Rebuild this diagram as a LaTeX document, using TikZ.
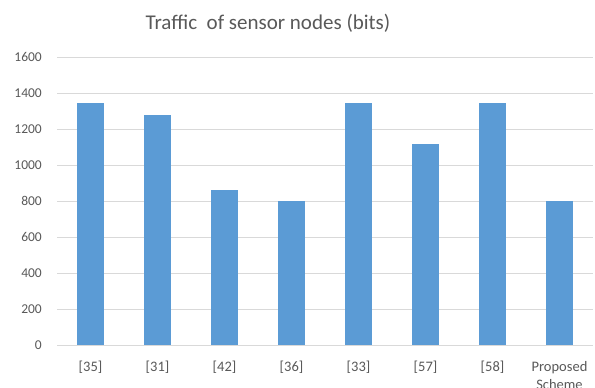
\documentclass[tikz,border=0pt]{standalone}
\usepackage{fontspec}
\setmainfont{Carlito}
\definecolor{barblue}{HTML}{5B9BD5}
\definecolor{gridgray}{HTML}{D9D9D9}
\definecolor{txtgray}{HTML}{595959}
\begin{document}
\begin{tikzpicture}[x=1pt,y=-1pt,
  bar/.style={fill=barblue,draw=none},
  grid/.style={draw=gridgray,line width=1pt},
  ylab/.style={anchor=east,text=txtgray,font=\fontsize{13.5}{14}\selectfont,inner sep=0pt},
  xlab/.style={anchor=north,text=txtgray,font=\fontsize{14.5}{18}\selectfont,inner sep=0pt,align=center},
  title/.style={text=txtgray,font=\fontsize{21}{24}\selectfont,inner sep=0pt}]
\useasboundingbox[fill=white] (0,0) rectangle (595,388);
\node[title] (t) at (268,23) {Traffic\ \ of sensor nodes (bits)};
% grid and y labels
\foreach \v [count=\i from 0] in {0,200,400,600,800,1000,1200,1400,1600}{
  \pgfmathsetmacro{\yy}{345-\v*0.1797}
  \coordinate (gl\i) at (57,\yy);
  \coordinate (gr\i) at (593,\yy);
  \draw[grid] (gl\i) -- (gr\i);
  \node[ylab] (yl\i) at (42,\yy) {\v};
}
% bars
\foreach \val/\lab [count=\i from 0] in {1344/{[35]},1280/{[31]},864/{[42]},800/{[36]},1344/{[33]},1120/{[57]},1344/{[58]},800/{Proposed\\Scheme}}{
  \pgfmathsetmacro{\xc}{90.5+67*\i}
  \pgfmathsetmacro{\yt}{345-\val*0.1797}
  \fill[bar] (\xc-13.5,345) rectangle (\xc+13.5,\yt);
  \node[xlab] (xl\i) at (\xc,361) {\lab};
}
\end{tikzpicture}
\end{document}
